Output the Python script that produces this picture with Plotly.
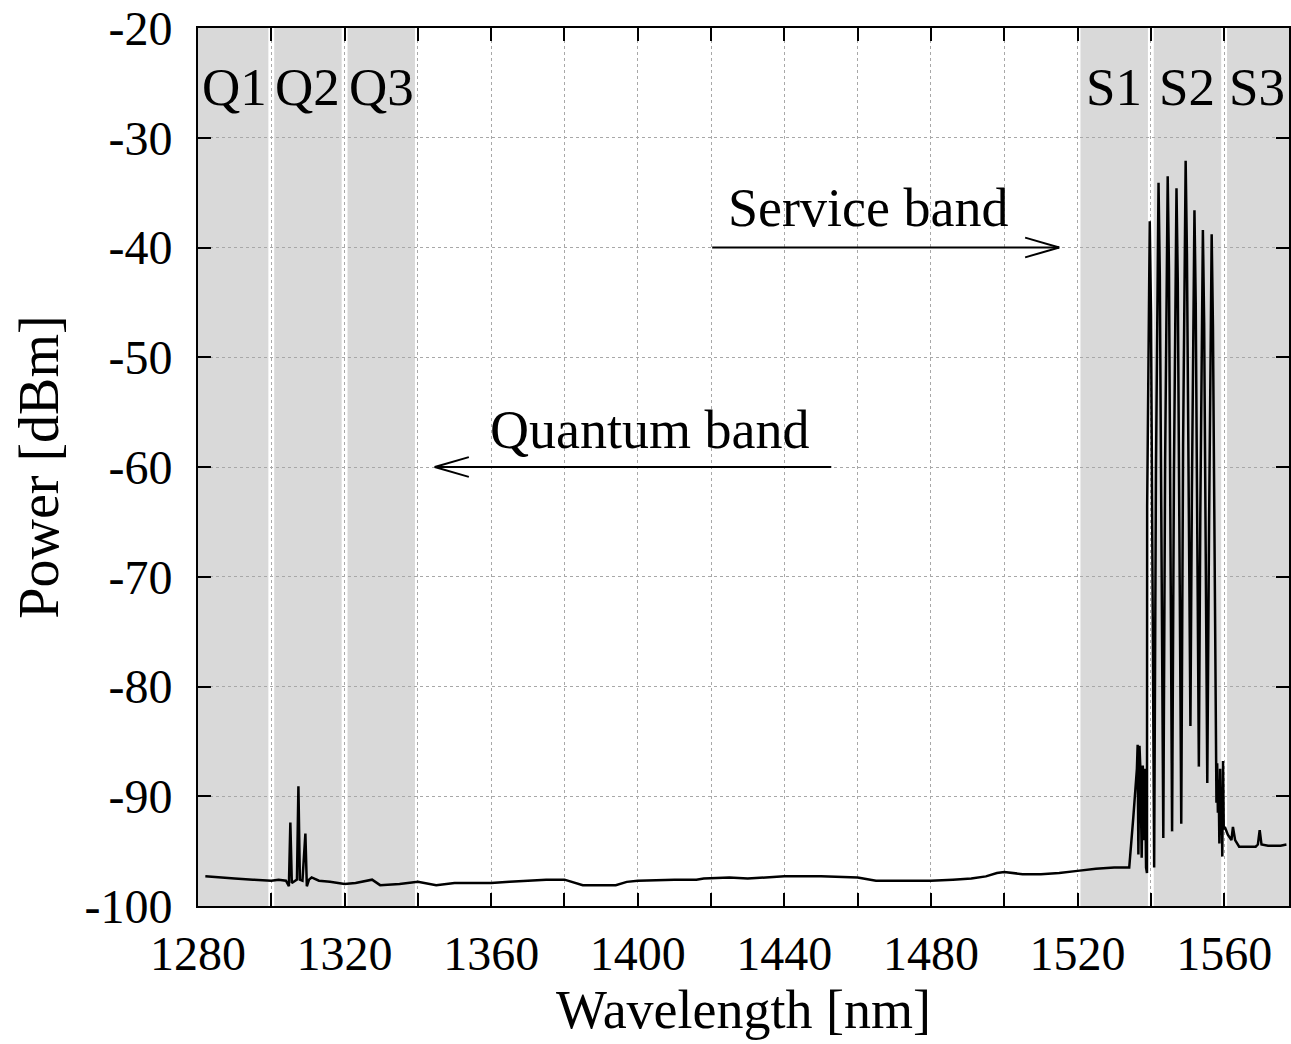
import plotly.graph_objects as go

# ---------------- data ----------------
# baseline spectrum (wavelength nm, power dBm)
base_wl = [1282.0, 1285, 1290, 1295, 1300, 1302, 1304, 1304.8, 1305.2, 1305.6, 1306.5, 1307.0,
           1307.4, 1307.8, 1308.5, 1309.3, 1309.7, 1310.3, 1311, 1313, 1316, 1320, 1323, 1326,
           1327.5, 1329.7, 1335, 1340, 1345, 1350, 1355, 1360, 1365, 1370, 1375, 1380, 1383,
           1385, 1390, 1394, 1397, 1400, 1410, 1416, 1418, 1425, 1430, 1440, 1450, 1460, 1465,
           1470, 1480, 1486, 1491, 1495, 1498, 1500, 1505, 1510, 1515, 1520, 1525, 1530, 1534.1]
base_pw = [-97.3, -97.4, -97.5, -97.6, -97.7, -97.6, -97.7, -98.2, -92.4, -97.9, -97.7, -97.6,
           -89.1, -97.6, -97.7, -93.4, -98.2, -97.6, -97.4, -97.7, -97.8, -98.0, -97.9, -97.7,
           -97.6, -98.1, -98.0, -97.8, -98.1, -97.9, -97.9, -97.9, -97.8, -97.7, -97.6, -97.6, -97.9,
           -98.1, -98.1, -98.1, -97.8, -97.7, -97.6, -97.6, -97.5, -97.4, -97.5, -97.3, -97.3, -97.4, -97.7,
           -97.7, -97.7, -97.6, -97.5, -97.3, -97.0, -96.9, -97.1, -97.1, -97.0, -96.8, -96.6, -96.5, -96.5]

# service channels (comb) region
comb_wl = [1535.2, 1536.2, 1536.4, 1536.6, 1536.9, 1537.2, 1537.5, 1537.8, 1538.1, 1538.4, 1538.7, 1538.95,
           1539.0, 1539.35, 1539.7, 1540.05, 1540.4, 1540.9,
           1541.4, 1541.75, 1542.1, 1542.45, 1542.8, 1543.4,
           1543.9, 1544.25, 1544.6, 1544.95, 1545.3, 1545.8,
           1546.3, 1546.65, 1547.0, 1547.35, 1547.7, 1548.3,
           1548.8, 1549.15, 1549.5, 1549.85, 1550.2, 1550.8,
           1551.2, 1551.55, 1551.9, 1552.25, 1552.6, 1553.1,
           1553.5, 1553.85, 1554.2, 1554.55, 1554.9, 1555.4,
           1555.9, 1556.25, 1556.6, 1556.95, 1557.3, 1557.7,
           1557.9, 1558.1, 1558.3, 1558.5, 1558.7, 1558.9, 1559.1, 1559.3, 1559.5, 1559.7, 1559.9,
           1560.2, 1561.0, 1562.0, 1562.4, 1563.0, 1564.1, 1568.6, 1569.2, 1569.7, 1570.2, 1572,
           1575.4, 1577]
comb_pw = [-92.0, -87.5, -85.3, -95.3, -85.4, -88.0, -95.6, -87.2, -94.0, -87.5, -96.5, -97.0,
           -63.6, -46.1, -37.6, -46.1, -63.6, -96.5,
           -60.1, -42.6, -34.1, -42.6, -60.1, -93.8,
           -59.5, -42.0, -33.5, -42.0, -59.5, -93.2,
           -60.6, -43.1, -34.6, -43.1, -60.6, -92.5,
           -58.1, -40.6, -32.1, -40.6, -58.1, -83.6,
           -62.6, -45.1, -36.6, -45.1, -62.6, -87.3,
           -64.4, -46.9, -38.4, -46.9, -64.4, -88.8,
           -64.8, -47.3, -38.8, -47.3, -64.8, -86.5,
           -90.6, -87.0, -91.5, -88.5, -94.3, -87.5, -93.5, -90.0, -95.5, -86.8, -93.0,
           -92.8, -93.5, -94.0, -92.8, -94.0, -94.6, -94.6, -94.4, -93.1, -94.4, -94.5,
           -94.5, -94.4]

wavelength = base_wl + comb_wl
power = base_pw + comb_pw

# bands
band_names = ["Q1", "Q2", "Q3", "S1", "S2", "S3"]
band_start = [1280, 1300, 1320, 1520, 1540, 1560]
band_end = [1300, 1320, 1340, 1540, 1560, 1577.7]

# axes
x_range = [1280, 1577.7]
y_range = [-100, -20]
x_tick_vals = [1280, 1300, 1320, 1340, 1360, 1380, 1400, 1420, 1440, 1460, 1480, 1500, 1520, 1540, 1560]
x_tick_text = ["1280", "", "1320", "", "1360", "", "1400", "", "1440", "", "1480", "", "1520", "", "1560"]
y_tick_vals = [-100, -90, -80, -70, -60, -50, -40, -30, -20]
y_tick_text = ["-100", "-90", "-80", "-70", "-60", "-50", "-40", "-30", "-20"]

# annotation arrows: (tail_x, tip_x, y) and text
service_arrow = [1420.3, 1515.0, -40]
quantum_arrow = [1452.8, 1344.6, -60]
service_text = ["Service band", 1462.9, -36.4]
quantum_text = ["Quantum band", 1403.3, -56.6]

FONT = "Liberation Serif"
GAP = 0.8
HEAD_L = 9.3
HEAD_W = 0.9

fig = go.Figure()
fig.add_trace(go.Scatter(x=wavelength, y=power, mode="lines",
                         line=dict(color="black", width=2.5), showlegend=False, hoverinfo="skip"))

shapes = []
for s, e in zip(band_start, band_end):
    x0 = s + GAP if s > x_range[0] else s
    x1 = e - GAP if e < x_range[1] else e
    shapes.append(dict(type="rect", xref="x", yref="y", x0=x0, x1=x1, y0=y_range[0], y1=y_range[1],
                       fillcolor="#d9d9d9", line=dict(width=0), layer="below"))

for tail, tip, yv in [service_arrow, quantum_arrow]:
    direction = 1 if tip > tail else -1
    shapes.append(dict(type="line", xref="x", yref="y", x0=tail, x1=tip, y0=yv, y1=yv,
                       line=dict(color="black", width=2)))
    for sgn in (1, -1):
        shapes.append(dict(type="line", xref="x", yref="y", x0=tip - direction * HEAD_L, x1=tip,
                           y0=yv + sgn * HEAD_W, y1=yv, line=dict(color="black", width=2)))

annotations = []
for name, s, e in zip(band_names, band_start, band_end):
    annotations.append(dict(x=(s + e) / 2, y=-25.4, xref="x", yref="y", text=name, showarrow=False,
                            font=dict(family=FONT, size=53, color="black")))
for txt, xv, yv in [service_text, quantum_text]:
    annotations.append(dict(x=xv, y=yv, xref="x", yref="y", text=txt, showarrow=False,
                            font=dict(family=FONT, size=54, color="black")))

axis_common = dict(showline=True, linecolor="black", linewidth=2, mirror="ticks",
                   ticks="inside", ticklen=13, tickwidth=2, tickcolor="black",
                   showgrid=True, gridcolor="#a8a8a8", griddash="dot", gridwidth=1,
                   zeroline=False, ticklabeloverflow="allow", automargin=False,
                   tickfont=dict(family=FONT, size=48, color="black"))

fig.update_layout(
    width=1291, height=1044,
    margin=dict(l=198, r=2, t=28, b=138),
    paper_bgcolor="white", plot_bgcolor="white",
    shapes=shapes, annotations=annotations,
    xaxis=dict(range=x_range, tickmode="array", tickvals=x_tick_vals, ticktext=x_tick_text,
               title=dict(text="Wavelength [nm]", font=dict(family=FONT, size=54, color="black"), standoff=2),
               ticklabelstandoff=4, **axis_common),
    yaxis=dict(range=y_range, tickmode="array", tickvals=y_tick_vals, ticktext=y_tick_text,
               title=dict(text="Power [dBm]", font=dict(family=FONT, size=56, color="black"), standoff=8),
               ticklabelstandoff=14, **axis_common),
)

fig.write_html("out.html")
